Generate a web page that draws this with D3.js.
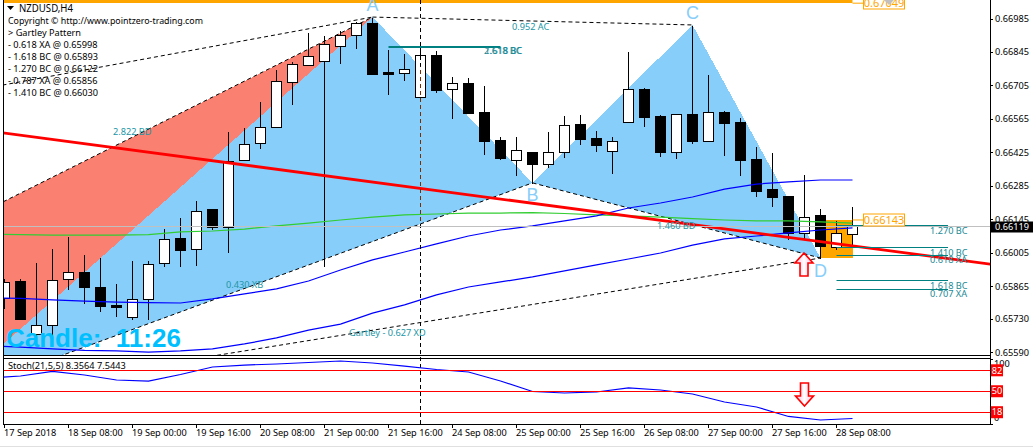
<!DOCTYPE html>
<html>
<head>
<meta charset="utf-8">
<script src="https://d3js.org/d3.v7.min.js"></script>
<style>
html,body{margin:0;padding:0;background:#fff;overflow:hidden}
svg{display:block}
text{font-family:"Noto Sans",sans-serif;font-size:9.2px;fill:#000}
</style>
</head>
<body>
<svg id="c" width="1033" height="447"></svg>
<script>
const opens=[.65817,.65888,.65667,.65704,.65896,.65926,.65863,.65788,.65737,.65813,.65963,.66068,.66022,.66189,.66114,.66394,.66465,.66532,.66720,.66791,.66807,.66870,.66916,.66966,.66761,.66757,.66657,.66832,.66690,.66715,.66594,.66477,.66394,.66427,.66377,.66427,.66544,.66486,.66431,.66552,.66690,.66578,.66427,.66586,.66473,.66594,.66552,.66398,.66272,.66243,.66089,.66164,.66030,.66084];
const highs=[.65901,.65901,.65967,.66026,.66076,.66001,.65988,.65880,.65976,.65976,.66110,.66155,.66227,.66189,.66515,.66532,.66640,.66774,.66807,.66929,.66916,.66937,.66975,.66991,.66858,.66841,.66891,.66853,.66745,.66741,.66707,.66494,.66494,.66427,.66515,.66582,.66586,.66519,.66494,.66849,.66699,.66586,.66586,.66958,.66753,.66603,.66573,.66452,.66427,.66243,.66335,.66193,.66143,.66201];
const lows=[.65775,.65729,.65654,.65662,.65855,.65796,.65763,.65742,.65729,.65729,.65951,.65951,.65955,.66105,.66009,.66394,.66444,.66532,.66628,.66791,.65951,.66799,.66862,.66753,.66669,.66728,.66657,.66678,.66569,.66590,.66419,.66398,.66331,.66298,.66364,.66406,.66461,.66431,.66339,.66552,.66536,.66410,.66402,.66465,.66473,.66415,.66331,.66243,.66201,.66064,.66064,.65984,.66022,.66030];
const closes=[.65884,.65729,.65704,.65892,.65926,.65863,.65784,.65779,.65813,.65959,.66064,.66018,.66181,.66114,.66389,.66461,.66532,.66724,.66795,.66828,.66878,.66916,.66966,.66753,.66753,.66774,.66832,.66686,.66715,.66590,.66473,.66402,.66435,.66377,.66427,.66540,.66481,.66456,.66473,.66690,.66573,.66427,.66586,.66473,.66594,.66548,.66394,.66264,.66239,.66089,.66155,.66034,.66089,.66118];

// moving averages and stochastic, one reading every second bar (bars -1,1,3,...,53)
const maBars=d3.range(-1,54,2);
const maBlueFast=[.65817,.65815,.65809,.65804,.65800,.65798,.65796,.65813,.65834,.65855,.65888,.65934,.65976,.66009,.66043,.66076,.66101,.66118,.66139,.66160,.66193,.66214,.66239,.66272,.66293,.66302,.66310,.66310];
const maBlueSlow=[.65617,.65612,.65604,.65598,.65596,.65591,.65596,.65604,.65625,.65650,.65683,.65708,.65754,.65788,.65830,.65863,.65884,.65905,.65930,.65955,.65980,.66005,.66038,.66064,.66076,.66089,.66101,.66110];
const maGreen=[.66084,.66082,.66080,.66080,.66080,.66082,.66093,.66097,.66105,.66118,.66130,.66143,.66155,.66164,.66168,.66172,.66172,.66174,.66170,.66164,.66160,.66155,.66149,.66143,.66139,.66139,.66135,.66130];
const stochValues=[70.2,73.3,80.2,74.8,67.2,65.6,75.6,87,90,91.6,93.9,96.2,93.1,88.5,83.2,79.4,65.6,49.6,47.3,48.9,55,51.9,45.8,33.6,26,11.5,6.1,8.36];

// harmonic pattern X A B C D
const patternBars=[-4,23,33,43,51];
const patternPrices=[.65391,.66991,.66298,.66958,.65984];
const patternNames=["","A","B","C","D"];
const salmonCornerPrice=.66088;
const upperDashPrice=.66659;
const trendBars=[-1,62];
const trendPrices=[.66515,.65955];

const priceTicks=[.66985,.66845,.66705,.66565,.66425,.66285,.66145,.66005,.65865,.65730,.65590];
const currentPrice=.66119;
const tagHigh=.67049, tagLow=.66143, boxBottom=.65984;
const fibBoxes=[[.66122,"1.270 BC"],[.66030,"1.410 BC"],[.65998,"0.618 XA"],[.65893,"1.618 BC"],[.65856,"0.707 XA"]];
const fibTop=[[.66870,"2.618 BC"],[.66866,"1.618 BC"]];
const patternNotes=[["2.822 BD",.66512,113],["0.952 AC",.66952,512],["0.430 XB",.65873,226],["Gartley - 0.627 XD",.65670,349],["1.460 BD",.66118,657]];
const stochLevels=[82,50,18];
const timeBars=d3.range(0,53,4);
const timeLabels=["17 Sep 2018","18 Sep 08:00","19 Sep 00:00","19 Sep 16:00","20 Sep 08:00","21 Sep 00:00","21 Sep 16:00","24 Sep 08:00","25 Sep 00:00","25 Sep 16:00","26 Sep 08:00","27 Sep 00:00","27 Sep 16:00","28 Sep 08:00"];
const infoLines=["Copyright © http://www.pointzero-trading.com","> Gartley Pattern","- 0.618 XA @ 0.65998","- 1.618 BC @ 0.65893","- 1.270 BC @ 0.66122","- 0.787 XA @ 0.65856","- 1.410 BC @ 0.66030"];

const L=3.5,R=990,T=0,B=355,ST=358,SB=424;
const x=d3.scaleLinear().domain([0,53]).range([4.5,852.5]);
const y=d3.scaleLinear().domain([.65590,.66985]).range([352.3,18.5]);
const ys=d3.scaleLinear().domain([0,100]).range([424,358.5]);
const sn=v=>Math.round(v)+.5;

const svg=d3.select("#c");
const defs=svg.append("defs");
defs.append("clipPath").attr("id","main").append("rect").attr("x",L).attr("y",T).attr("width",R-L).attr("height",B-T);
defs.append("clipPath").attr("id","sub").append("rect").attr("x",L).attr("y",ST).attr("width",R-L).attr("height",SB-ST);
const pts=patternBars.map((b,i)=>[x(b),y(patternPrices[i])]);
defs.append("clipPath").attr("id","tri").append("polygon").attr("points",[pts[0],pts[1],pts[2]].join(" "));
const grad=defs.append("linearGradient").attr("id","arrowFill").attr("x1",0).attr("x2",1).attr("y1",0).attr("y2",0);
grad.append("stop").attr("offset","0%").attr("stop-color","#ffb6d9");
grad.append("stop").attr("offset","50%").attr("stop-color","#fff");
grad.append("stop").attr("offset","100%").attr("stop-color","#ffb6d9");

const main=svg.append("g").attr("clip-path","url(#main)");

// filled triangles
const salmonCorner=[x(patternBars[0]),y(salmonCornerPrice)];
main.append("polygon").attr("points",[pts[0],pts[1],salmonCorner].join(" ")).attr("fill","#fa8072").attr("shape-rendering","crispEdges");
main.append("polygon").attr("points",[pts[0],pts[1],pts[2]].join(" ")).attr("fill","#87cefa").attr("shape-rendering","crispEdges");
main.append("polygon").attr("points",[pts[2],pts[3],pts[4]].join(" ")).attr("fill","#87cefa").attr("shape-rendering","crispEdges");

// dashed pattern edges
const dash=(a,b,col)=>main.append("line").attr("x1",a[0]).attr("y1",a[1]).attr("x2",b[0]).attr("y2",b[1])
  .attr("stroke",col||"#000").attr("stroke-width",1).attr("stroke-dasharray","4,3");
dash(pts[0],pts[2]);
dash(pts[2],pts[4]);
dash(pts[0],pts[4]);
dash(pts[1],pts[3]);
dash(salmonCorner,pts[1]);
dash([x(patternBars[0]),y(upperDashPrice)],pts[1]);

// orange level box and tag lines
main.append("rect").attr("x",x(51)).attr("width",x(53)-x(51)).attr("y",y(tagLow)).attr("height",y(boxBottom)-y(tagLow)).attr("fill","#ffa500").attr("shape-rendering","crispEdges");
svg.append("rect").attr("x",L).attr("width",x(53)-L).attr("y",0).attr("height",3).attr("fill","#ffa500");

// crosshair
svg.append("line").attr("x1",x(26)).attr("x2",x(26)).attr("y1",0).attr("y2",SB).attr("stroke","#000").attr("stroke-dasharray","4,3").attr("shape-rendering","crispEdges");
svg.append("line").attr("x1",x(26)).attr("x2",x(26)).attr("y1",0).attr("y2",SB).attr("stroke","#7a2e00").attr("stroke-dasharray","4,3").attr("shape-rendering","crispEdges").attr("clip-path","url(#tri)");

// grey current price line
svg.append("line").attr("x1",L).attr("x2",R).attr("y1",sn(y(currentPrice))).attr("y2",sn(y(currentPrice))).attr("stroke","#c0c0c0");

// candles
const candles=main.append("g").attr("shape-rendering","crispEdges");
opens.forEach((o,i)=>{
  const c=closes[i],cx=x(i);
  candles.append("line").attr("x1",cx).attr("x2",cx).attr("y1",sn(y(highs[i]))).attr("y2",sn(y(lows[i]))).attr("stroke","#000");
  const t=sn(y(Math.max(o,c))),b=sn(y(Math.min(o,c)));
  candles.append("rect").attr("x",cx-5).attr("width",10).attr("y",t).attr("height",Math.max(1,b-t))
    .attr("fill",c>=o?"#fff":"#000").attr("stroke","#000");
});

// moving averages
const maLine=vals=>d3.line().x((d,i)=>x(maBars[i])).y(d=>y(d)).curve(d3.curveLinear)(vals);
main.append("path").attr("d",maLine(maGreen)).attr("fill","none").attr("stroke","#32cd32").attr("stroke-width",1.2);
main.append("path").attr("d",maLine(maBlueFast)).attr("fill","none").attr("stroke","#0000ff").attr("stroke-width",1.2);
main.append("path").attr("d",maLine(maBlueSlow)).attr("fill","none").attr("stroke","#0000ff").attr("stroke-width",1.2);

// fib levels
fibBoxes.forEach(d=>{
  svg.append("line").attr("x1",x(52)).attr("x2",948).attr("y1",sn(y(d[0]))).attr("y2",sn(y(d[0]))).attr("stroke","#008080");
  svg.append("text").attr("x",930).attr("y",y(d[0])+5.5).attr("dy","0.35em").attr("style","fill:#1a8a96").text(d[1]);
});
fibTop.forEach((d,i)=>{
  svg.append("line").attr("x1",x(24)).attr("x2",x(31)).attr("y1",sn(y(d[0]))).attr("y2",sn(y(d[0]))).attr("stroke","#008080");
  svg.append("text").attr("x",484+i*.7).attr("y",51).attr("dy","0.35em").attr("style","fill:#1a8a96").text(d[1]);
});

// trend line
main.append("line").attr("x1",x(trendBars[0])).attr("y1",y(trendPrices[0])).attr("x2",x(trendBars[1])).attr("y2",y(trendPrices[1])).attr("stroke","#ff0000").attr("stroke-width",2.8);

// notes
patternNotes.forEach(d=>{
  svg.append("text").attr("x",d[2]).attr("y",y(d[1])).attr("dy","0.35em").attr("style","fill:#2396a6").text(d[0]);
});

// pattern letters
const letterDy=[0,-6,18,-6,19];
patternNames.forEach((n,i)=>{
  if(!n)return;
  svg.append("text").attr("x",pts[i][0]).attr("y",pts[i][1]+letterDy[i]).attr("text-anchor","middle")
    .attr("style","font-family:'Liberation Sans';font-size:18px;fill:#87cefa").text(n);
});

// tag boxes
const tag=(p,cy)=>{
  svg.append("line").attr("x1",x(53)).attr("x2",863).attr("y1",y(p)).attr("y2",y(p)).attr("stroke","#ffa500");
  svg.append("rect").attr("x",863.5).attr("y",cy-6).attr("width",41).attr("height",12).attr("fill","#fff").attr("stroke","#ffa500");
  svg.append("text").attr("x",884).attr("y",cy).attr("dy","0.36em").attr("text-anchor","middle").attr("style","fill:#ffa500;font-size:11px").text(p.toFixed(5));
};
tag(tagHigh,3);
tag(tagLow,220);

// grey shift marker
svg.append("path").attr("d",d3.line()([[884,0],[894,0],[889,5]])+"Z").attr("fill","#c0c0c0");

// up arrow on the price panel
const arrowAt=(ax,tip,dir)=>{
  const s=dir;
  const a=[[0,0],[9,10],[4,10],[4,23],[-4,23],[-4,10],[-9,10]].map(p=>[ax+p[0],tip+s*p[1]]);
  return d3.line()(a)+"Z";
};
svg.append("path").attr("d",arrowAt(x(50)-.5,253,1)).attr("fill","url(#arrowFill)").attr("stroke","#ff0000").attr("stroke-width",1.6);

// frame
const fr=svg.append("g").attr("shape-rendering","crispEdges").attr("fill","none").attr("stroke","#000");
fr.append("line").attr("x1",3.5).attr("x2",3.5).attr("y1",0).attr("y2",SB+.5);
fr.append("line").attr("x1",R).attr("x2",R).attr("y1",0).attr("y2",SB+.5);
fr.append("line").attr("x1",3).attr("x2",R).attr("y1",B).attr("y2",B);
fr.append("line").attr("x1",3).attr("x2",R).attr("y1",ST).attr("y2",ST);
fr.append("line").attr("x1",3).attr("x2",R).attr("y1",SB).attr("y2",SB);

// price axis
priceTicks.forEach(p=>{
  fr.append("line").attr("x1",R).attr("x2",R+3).attr("y1",sn(y(p))).attr("y2",sn(y(p)));
  svg.append("text").attr("x",995).attr("y",y(p)).attr("dy","0.35em").text(p.toFixed(5));
});
svg.append("rect").attr("x",R).attr("y",Math.round(y(currentPrice))-4.5).attr("width",43).attr("height",11).attr("fill","#000");
svg.append("text").attr("x",995).attr("y",y(currentPrice)+1).attr("dy","0.35em").attr("style","fill:#fff").text(currentPrice.toFixed(5));

// info text
svg.append("path").attr("d",d3.line()([[7,6],[14,6],[10.5,10]])+"Z").attr("fill","#000");
svg.append("text").attr("x",19).attr("y",8).attr("dy","0.35em").attr("textLength",54).attr("lengthAdjust","spacingAndGlyphs").attr("style","font-size:10px").text("NZDUSD,H4");
infoLines.forEach((t,i)=>{
  const el=svg.append("text").attr("x",8).attr("y",21+12*i).attr("dy","0.35em").text(t);
  if(i===0) el.attr("textLength",195).attr("lengthAdjust","spacingAndGlyphs");
});
svg.append("text").attr("x",6).attr("y",346.5).attr("style","font-family:'Liberation Sans';font-weight:bold;font-size:26px;fill:#00bfff").attr("xml:space","preserve").text("Candle:  11:26");

// stochastic panel
const sub=svg.append("g").attr("clip-path","url(#sub)");
sub.append("path").attr("d",d3.line().x((d,i)=>x(maBars[i])).y(d=>ys(d))(stochValues)).attr("fill","none").attr("stroke","#0000ff").attr("stroke-width",1.2);
stochLevels.forEach(v=>{
  sub.append("line").attr("x1",L).attr("x2",R).attr("y1",sn(ys(v))).attr("y2",sn(ys(v))).attr("stroke","#ff0000").attr("stroke-width",1).attr("shape-rendering","crispEdges");
});
svg.append("text").attr("x",8).attr("y",366).attr("dy","0.35em").text("Stoch(21,5,5) 8.3564 7.5443");
[100,0].forEach(v=>{
  fr.append("line").attr("x1",R).attr("x2",R+3).attr("y1",sn(ys(v))).attr("y2",sn(ys(v)));
});
svg.append("text").attr("x",994).attr("y",364).attr("dy","0.35em").text("100");
svg.append("text").attr("x",994).attr("y",418).attr("dy","0.35em").text("0");
stochLevels.forEach(v=>{
  svg.append("rect").attr("x",R+1).attr("y",ys(v)-6).attr("width",12).attr("height",12).attr("fill","#ff0000");
  svg.append("text").attr("x",R+7).attr("y",ys(v)).attr("dy","0.35em").attr("text-anchor","middle").attr("style","fill:#fff").text(v);
});
svg.append("path").attr("d",arrowAt(x(50),406,-1)).attr("fill","url(#arrowFill)").attr("stroke","#ff0000").attr("stroke-width",1.6);

// time axis
timeBars.forEach((b,i)=>{
  fr.append("line").attr("x1",x(b)).attr("x2",x(b)).attr("y1",SB).attr("y2",SB+4);
  svg.append("text").attr("x",x(b)-.5).attr("y",433).attr("dy","0.35em").text(timeLabels[i]);
});
svg.append("line").attr("x1",0).attr("x2",1033).attr("y1",446.5).attr("y2",446.5).attr("stroke","#e0e0e0");
</script>
</body>
</html>
